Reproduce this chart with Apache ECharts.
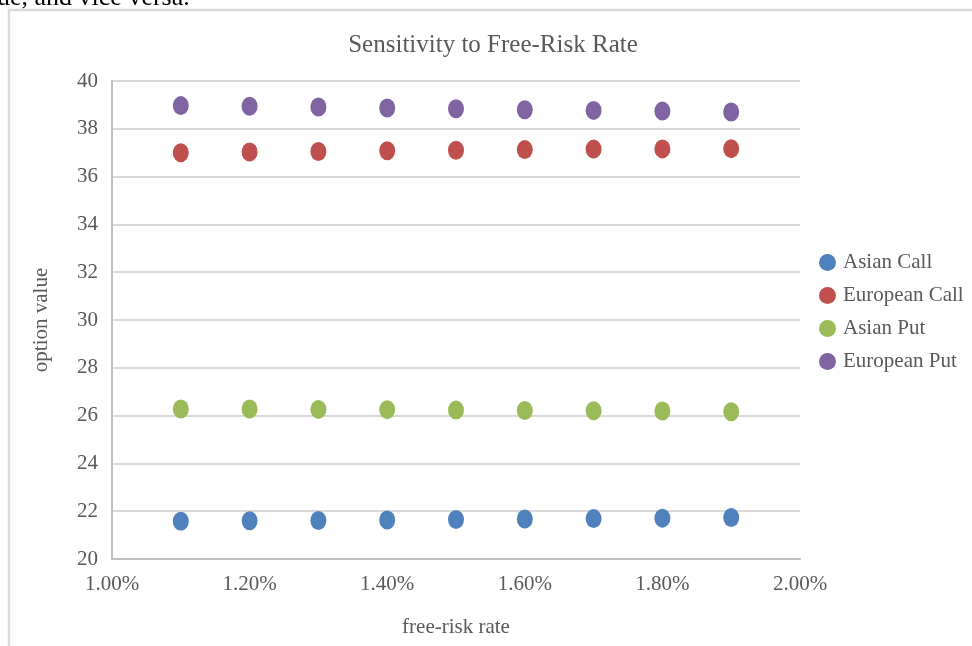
<!DOCTYPE html>
<html>
<head>
<meta charset="utf-8">
<script src="https://cdn.jsdelivr.net/npm/echarts@6/dist/echarts.min.js"></script>
<style>
html,body{margin:0;padding:0;background:#fff;}
#chart{width:972px;height:646px;}
</style>
</head>
<body>
<div id="chart"></div>
<script>
const rates = [1.1, 1.2, 1.3, 1.4, 1.5, 1.6, 1.7, 1.8, 1.9];
const asianCall = [21.58, 21.60, 21.61, 21.63, 21.65, 21.67, 21.69, 21.71, 21.74];
const europeanCall = [37.00, 37.03, 37.05, 37.08, 37.10, 37.13, 37.15, 37.16, 37.17];
const asianPut = [26.28, 26.28, 26.26, 26.25, 26.23, 26.21, 26.20, 26.19, 26.16];
const europeanPut = [38.97, 38.94, 38.91, 38.87, 38.84, 38.80, 38.77, 38.74, 38.70];
const seriesNames = ['Asian Call', 'European Call', 'Asian Put', 'European Put'];
const seriesColors = ['#4f81bd', '#c0504d', '#9bbb59', '#8064a2'];

const font = '"Liberation Serif", "Times New Roman", serif';
const textColor = '#595959';

function pairs(vals) { return rates.map((r, i) => [r, vals[i]]); }
const allData = [asianCall, europeanCall, asianPut, europeanPut];

const chart = echarts.init(document.getElementById('chart'), null, {renderer: 'canvas'});
chart.setOption({
  animation: false,
  backgroundColor: '#fff',
  title: {
    text: 'Sensitivity to Free-Risk Rate',
    left: 488, top: 28, textAlign: 'center',
    textStyle: {fontFamily: font, fontSize: 25, fontWeight: 'normal', color: textColor}
  },
  graphic: [
    {type: 'rect', shape: {x: 9, y: 10, width: 1000, height: 700},
     style: {fill: 'none', stroke: '#d9d9d9', lineWidth: 2.5}, silent: true},
    {type: 'text', left: -3, top: -15,
     style: {text: 'ue, and vice versa.', fontFamily: font, fontSize: 26, fill: '#000'}}
  ],
  legend: {
    orient: 'vertical', left: 814, top: 247, itemGap: 12,
    itemWidth: 17, itemHeight: 17, icon: 'circle',
    data: seriesNames,
    textStyle: {fontFamily: font, fontSize: 21, color: textColor, padding: [0, 0, 0, 2]}
  },
  grid: {left: 112, right: 172, top: 81, bottom: 87, containLabel: false},
  xAxis: {
    type: 'value', min: 1.0, max: 2.0, interval: 0.2,
    name: 'free-risk rate', nameLocation: 'middle', nameGap: 58,
    nameTextStyle: {fontFamily: font, fontSize: 21, color: textColor},
    axisLine: {show: true, lineStyle: {color: '#bfbfbf', width: 2}},
    axisTick: {show: false},
    splitLine: {show: false},
    axisLabel: {fontFamily: font, fontSize: 21, color: textColor, margin: 15,
      formatter: v => v.toFixed(2) + '%'}
  },
  yAxis: {
    type: 'value', min: 20, max: 40, interval: 2,
    name: 'option value', nameLocation: 'middle', nameGap: 60,
    nameTextStyle: {fontFamily: font, fontSize: 21, color: textColor},
    axisLine: {show: true, lineStyle: {color: '#bfbfbf', width: 2}},
    axisTick: {show: false},
    splitLine: {show: true, lineStyle: {color: '#d9d9d9', width: 2}},
    axisLabel: {fontFamily: font, fontSize: 21, color: textColor, margin: 14}
  },
  series: seriesNames.map((n, i) => ({
    name: n, type: 'scatter', data: pairs(allData[i]),
    symbol: 'circle', symbolSize: [16, 19],
    itemStyle: {color: seriesColors[i], opacity: 1}
  }))
});
</script>
</body>
</html>
